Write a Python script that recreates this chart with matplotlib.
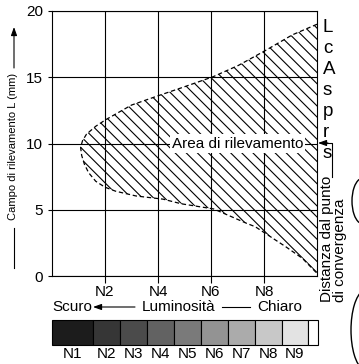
import matplotlib
matplotlib.use("Agg")
import matplotlib.pyplot as plt
from matplotlib.patches import Arc

plt.rcParams['font.family'] = ['Liberation Sans', 'DejaVu Sans']
plt.rcParams['hatch.linewidth'] = 0.8

# boundary of the detection area (x = brightness N, y = L in mm)
upper_x = [1.08, 1.15, 1.3, 1.65, 2.03, 3.0, 4.0, 4.88, 6.08, 7.04, 8.09, 9.07, 10.0]
upper_y = [9.7, 10.2, 10.7, 11.3, 11.8, 12.9, 13.6, 14.2, 15.04, 15.9, 17.06, 18.2, 19.0]
lower_x = [1.08, 1.12, 1.22, 1.38, 1.65, 2.0, 2.4, 3.17, 4.19, 4.88, 6.1, 6.78, 7.35,
           7.67, 8.43, 8.82, 9.45, 10.0]
lower_y = [9.7, 9.1, 8.45, 7.8, 7.15, 6.7, 6.4, 6.04, 5.8, 5.45, 5.06, 4.47, 3.97,
           3.72, 2.72, 2.21, 1.33, 0.2]

x_ticks = [2, 4, 6, 8]
x_labels = ['N2', 'N4', 'N6', 'N8']
y_ticks = [0, 5, 10, 15, 20]

gray_names = ['N1', 'N2', 'N3', 'N4', 'N5', 'N6', 'N7', 'N8', 'N9', '']
gray_shades = ['#1c1c1c', '#363636', '#4b4b4b', '#626262', '#7a7a7a',
               '#939393', '#ababab', '#c8c8c8', '#e3e3e3', '#ffffff']
gray_edges = [0, 1.55, 2.55, 3.57, 4.6, 5.62, 6.64, 7.66, 8.68, 9.66, 10.04]

fig = plt.figure(figsize=(3.59, 3.64), dpi=100)

ax = fig.add_axes([52/359, 88/364, 265/359, 265/364])
ax.set_xlim(0, 10)
ax.set_ylim(0, 20)
ax.set_xticks(x_ticks)
ax.set_xticklabels(x_labels)
ax.set_yticks(y_ticks)
ax.tick_params(axis='x', length=5, width=0.8, pad=1.5, labelsize=11)
ax.tick_params(axis='y', length=3, width=0.8, pad=3.5, labelsize=11)
for s in ax.spines.values():
    s.set_linewidth(0.8)
ax.grid(True, color='black', lw=0.8)

poly_x = upper_x + lower_x[::-1]
poly_y = upper_y + lower_y[::-1]
ax.fill(poly_x, poly_y, facecolor='none', edgecolor='black', hatch='\\\\\\', linewidth=0)
ax.plot(upper_x[::-1] + lower_x[1:], upper_y[::-1] + lower_y[1:],
        color='black', lw=0.9, dashes=(3.5, 2.2))
ax.text(7.0, 10, 'Area di rilevamento', ha='center', va='center', fontsize=11,
        bbox=dict(facecolor='white', edgecolor='none', pad=1.5), zorder=5)

# gray scale strip
bx = fig.add_axes([52/359, 19/364, 266/359, 25/364])
lefts = gray_edges[:-1]
widths = [b - a for a, b in zip(gray_edges[:-1], gray_edges[1:])]
bx.bar(lefts, [1]*len(lefts), widths, align='edge', color=gray_shades,
       edgecolor='black', lw=0.8, clip_on=False)
bx.set_xlim(0, 10.04)
bx.set_ylim(0, 1)
bx.axis('off')
for l, w, n in zip(lefts, widths, gray_names):
    bx.text(l + w/2, -0.06, n, ha='center', va='top', fontsize=11)

# annotations in pixel coordinates
ov = fig.add_axes([0, 0, 1, 1])
ov.set_xlim(0, 359)
ov.set_ylim(364, 0)
ov.axis('off')

arrow = dict(arrowstyle='-|>,head_length=0.5,head_width=0.18', color='black',
             lw=0.8, shrinkA=0, shrinkB=0)

ov.text(13, 146, 'Campo di rilevamento L (mm)', rotation=90, ha='center', va='center',
        fontsize=8)
ov.annotate('', xy=(14, 27), xytext=(14, 68), arrowprops=arrow)
ov.plot([14, 14], [228, 268], color='black', lw=0.8)

ov.text(52, 311, 'Scuro', ha='left', va='baseline', fontsize=11)
ov.annotate('', xy=(93, 307), xytext=(135, 307), arrowprops=arrow)
ov.text(179, 311, 'Luminosità', ha='center', va='baseline', fontsize=11)
ov.plot([222, 250], [307, 307], color='black', lw=0.8)
ov.text(257, 311, 'Chiaro', ha='left', va='baseline', fontsize=11)

ov.plot([332, 332, 325], [177, 143, 143], color='black', lw=0.8)
ov.annotate('', xy=(318, 143), xytext=(328, 143), arrowprops=arrow)
ov.text(326.5, 302, 'Distanza dal punto', rotation=90, ha='center', va='bottom', fontsize=11)
ov.text(340, 302, 'di convergenza', rotation=90, ha='center', va='bottom', fontsize=11)

for i, ch in enumerate(['L', 'c', 'A', 's', 'p', 'r', 's']):
    ov.text(323, 32 + 21*i, ch, ha='left', va='baseline', fontsize=13.5)

ov.add_patch(Arc((363, 201), 22, 46, theta1=100, theta2=260, color='black', lw=1))
ov.add_patch(Arc((366, 330), 30, 80, theta1=95, theta2=265, color='black', lw=1))

fig.savefig('out.png', dpi=100)
